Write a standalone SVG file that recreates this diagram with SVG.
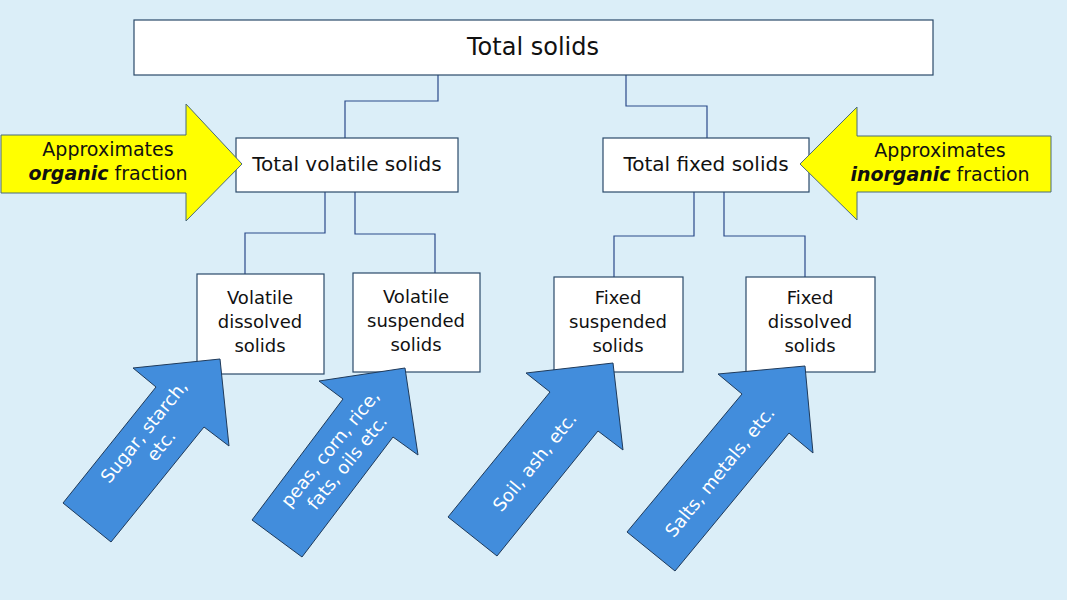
<svg xmlns="http://www.w3.org/2000/svg" width="1067" height="600" viewBox="0 0 1067 600">
<style>
.box{fill:#fff;stroke:#2a4a6a;stroke-width:1.2}
.t{font-family:"DejaVu Sans",sans-serif;fill:#111;text-anchor:middle}
.w{font-family:"DejaVu Sans",sans-serif;fill:#fff;text-anchor:middle;font-size:18px}
.ya{fill:#ffff00;stroke:#4a6a7a;stroke-width:1}
.ba{fill:#428ddc;stroke:#1f3a5a;stroke-width:1}
.c{fill:none;stroke:#2a4a8a;stroke-width:1.2}
</style>
<rect width="1067" height="600" fill="#dbeef8"/>
<g id="connectors">
<polyline class="c" points="438,75 438,101 345,101 345,138"/>
<polyline class="c" points="626,75 626,106 707,106 707,138"/>
<polyline class="c" points="325,192 325,233 245,233 245,274"/>
<polyline class="c" points="355,192 355,234 435,234 435,273"/>
<polyline class="c" points="694,192 694,236 614,236 614,277"/>
<polyline class="c" points="724,192 724,236 805,236 805,277"/>
</g>
<g id="total"><rect class="box" x="134" y="20" width="799" height="55"/><text class="t" x="533" y="55" font-size="24">Total solids</text></g>
<g id="tvs"><rect class="box" x="236" y="138" width="222" height="54"/><text class="t" x="347" y="171" font-size="20">Total volatile solids</text></g>
<g id="tfs"><rect class="box" x="603" y="138" width="206" height="54"/><text class="t" x="706" y="171" font-size="20">Total fixed solids</text></g>
<g id="vds"><rect class="box" x="197" y="274" width="127" height="100"/><text class="t" font-size="18"><tspan x="260" y="304">Volatile</tspan><tspan x="260" y="328">dissolved</tspan><tspan x="260" y="352">solids</tspan></text></g>
<g id="vss"><rect class="box" x="353" y="273" width="127" height="99"/><text class="t" font-size="18"><tspan x="416" y="303">Volatile</tspan><tspan x="416" y="327">suspended</tspan><tspan x="416" y="351">solids</tspan></text></g>
<g id="fss"><rect class="box" x="554" y="277" width="129" height="95"/><text class="t" font-size="18"><tspan x="618" y="304">Fixed</tspan><tspan x="618" y="328">suspended</tspan><tspan x="618" y="352">solids</tspan></text></g>
<g id="fds"><rect class="box" x="746" y="277" width="129" height="95"/><text class="t" font-size="18"><tspan x="810" y="304">Fixed</tspan><tspan x="810" y="328">dissolved</tspan><tspan x="810" y="352">solids</tspan></text></g>
<g id="organic">
<polygon class="ya" points="1,135 186,135 186,104 242,164 186,221 186,193 1,193"/>
<text class="t" font-size="19"><tspan x="108" y="156">Approximates</tspan><tspan x="108" y="180"><tspan font-weight="bold" font-style="italic">organic</tspan> fraction</tspan></text>
</g>
<g id="inorganic">
<polygon class="ya" points="1051,136 857,136 857,107 800,164 857,220 857,192 1051,192"/>
<text class="t" font-size="19"><tspan x="940" y="157">Approximates</tspan><tspan x="940" y="181"><tspan font-weight="bold" font-style="italic">inorganic</tspan> fraction</tspan></text>
</g>
<g id="a1"><polygon class="ba" points="63,503 156,387 133,368 220,359 229,446 204,427 111,542"/>
<text class="w" transform="translate(152,438) rotate(-51)"><tspan x="0" y="-4">Sugar, starch,</tspan><tspan x="0" y="18">etc.</tspan></text></g>
<g id="a2"><polygon class="ba" points="252,520 343,399 319,381 405,368 418,455 393,437 302,557"/>
<text class="w" transform="translate(338,455) rotate(-51)"><tspan x="0" y="-4">peas, corn, rice,</tspan><tspan x="0" y="18">fats, oils etc.</tspan></text></g>
<g id="a3"><polygon class="ba" points="448,517 550,392 526,373 613,363 623,450 598,431 497,556"/>
<text class="w" transform="translate(535,462) rotate(-51)"><tspan x="0" y="6">Soil, ash, etc.</tspan></text></g>
<g id="a4"><polygon class="ba" points="627,532 742,394 718,374 805,366 813,453 789,433 675,571"/>
<text class="w" transform="translate(720,472) rotate(-51)"><tspan x="0" y="6">Salts, metals, etc.</tspan></text></g>
</svg>
